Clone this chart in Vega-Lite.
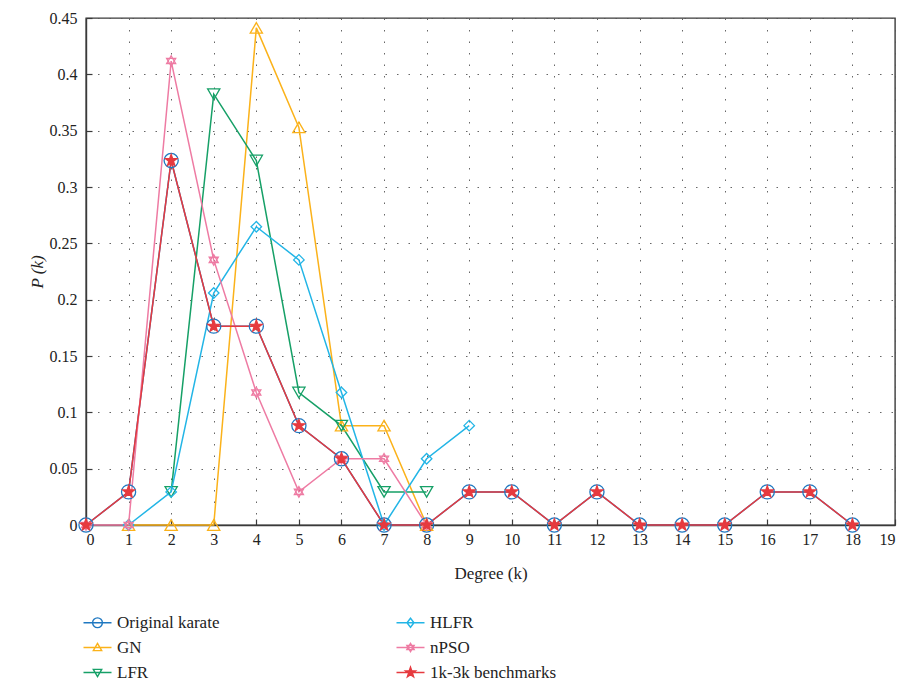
{
  "$schema": "https://vega.github.io/schema/vega-lite/v6.json",
  "width": 809,
  "height": 507,
  "autosize": "none",
  "padding": {"left": 86, "top": 18, "right": 11, "bottom": 159},
  "background": "white",
  "config": {
    "font": "Liberation Serif",
    "view": {"stroke": "#3a3a3a", "strokeWidth": 1.4},
    "axis": {
      "labelFont": "Liberation Serif",
      "titleFont": "Liberation Serif",
      "labelFontSize": 16,
      "titleFontSize": 17,
      "labelColor": "#222",
      "titleColor": "#222",
      "titleFontWeight": "normal",
      "domainColor": "#3a3a3a",
      "domainWidth": 1.4,
      "tickColor": "#3a3a3a",
      "tickWidth": 1.2,
      "tickSize": -6,
      "gridColor": "#555",
      "gridDash": [1.5, 10],
      "gridWidth": 1,
      "gridOpacity": 0.9
    }
  },
  "data": {
    "values": [
      {"k": 0, "p": 0, "series": "Original karate"},
      {"k": 1, "p": 0.0294, "series": "Original karate"},
      {"k": 2, "p": 0.3235, "series": "Original karate"},
      {"k": 3, "p": 0.1765, "series": "Original karate"},
      {"k": 4, "p": 0.1765, "series": "Original karate"},
      {"k": 5, "p": 0.0882, "series": "Original karate"},
      {"k": 6, "p": 0.0588, "series": "Original karate"},
      {"k": 7, "p": 0, "series": "Original karate"},
      {"k": 8, "p": 0, "series": "Original karate"},
      {"k": 9, "p": 0.0294, "series": "Original karate"},
      {"k": 10, "p": 0.0294, "series": "Original karate"},
      {"k": 11, "p": 0, "series": "Original karate"},
      {"k": 12, "p": 0.0294, "series": "Original karate"},
      {"k": 13, "p": 0, "series": "Original karate"},
      {"k": 14, "p": 0, "series": "Original karate"},
      {"k": 15, "p": 0, "series": "Original karate"},
      {"k": 16, "p": 0.0294, "series": "Original karate"},
      {"k": 17, "p": 0.0294, "series": "Original karate"},
      {"k": 18, "p": 0, "series": "Original karate"},
      {"k": 1, "p": 0, "series": "GN"},
      {"k": 2, "p": 0, "series": "GN"},
      {"k": 3, "p": 0, "series": "GN"},
      {"k": 4, "p": 0.4412, "series": "GN"},
      {"k": 5, "p": 0.3529, "series": "GN"},
      {"k": 6, "p": 0.0882, "series": "GN"},
      {"k": 7, "p": 0.0882, "series": "GN"},
      {"k": 8, "p": 0, "series": "GN"},
      {"k": 2, "p": 0.0294, "series": "LFR"},
      {"k": 3, "p": 0.3824, "series": "LFR"},
      {"k": 4, "p": 0.3235, "series": "LFR"},
      {"k": 5, "p": 0.1176, "series": "LFR"},
      {"k": 6, "p": 0.0882, "series": "LFR"},
      {"k": 7, "p": 0.0294, "series": "LFR"},
      {"k": 8, "p": 0.0294, "series": "LFR"},
      {"k": 1, "p": 0, "series": "HLFR"},
      {"k": 2, "p": 0.0294, "series": "HLFR"},
      {"k": 3, "p": 0.2059, "series": "HLFR"},
      {"k": 4, "p": 0.2647, "series": "HLFR"},
      {"k": 5, "p": 0.2353, "series": "HLFR"},
      {"k": 6, "p": 0.1176, "series": "HLFR"},
      {"k": 7, "p": 0, "series": "HLFR"},
      {"k": 8, "p": 0.0588, "series": "HLFR"},
      {"k": 9, "p": 0.0882, "series": "HLFR"},
      {"k": 0, "p": 0, "series": "nPSO"},
      {"k": 1, "p": 0, "series": "nPSO"},
      {"k": 2, "p": 0.4118, "series": "nPSO"},
      {"k": 3, "p": 0.2353, "series": "nPSO"},
      {"k": 4, "p": 0.1176, "series": "nPSO"},
      {"k": 5, "p": 0.0294, "series": "nPSO"},
      {"k": 6, "p": 0.0588, "series": "nPSO"},
      {"k": 7, "p": 0.0588, "series": "nPSO"},
      {"k": 8, "p": 0, "series": "nPSO"},
      {"k": 0, "p": 0, "series": "1k-3k benchmarks"},
      {"k": 1, "p": 0.0294, "series": "1k-3k benchmarks"},
      {"k": 2, "p": 0.3235, "series": "1k-3k benchmarks"},
      {"k": 3, "p": 0.1765, "series": "1k-3k benchmarks"},
      {"k": 4, "p": 0.1765, "series": "1k-3k benchmarks"},
      {"k": 5, "p": 0.0882, "series": "1k-3k benchmarks"},
      {"k": 6, "p": 0.0588, "series": "1k-3k benchmarks"},
      {"k": 7, "p": 0, "series": "1k-3k benchmarks"},
      {"k": 8, "p": 0, "series": "1k-3k benchmarks"},
      {"k": 9, "p": 0.0294, "series": "1k-3k benchmarks"},
      {"k": 10, "p": 0.0294, "series": "1k-3k benchmarks"},
      {"k": 11, "p": 0, "series": "1k-3k benchmarks"},
      {"k": 12, "p": 0.0294, "series": "1k-3k benchmarks"},
      {"k": 13, "p": 0, "series": "1k-3k benchmarks"},
      {"k": 14, "p": 0, "series": "1k-3k benchmarks"},
      {"k": 15, "p": 0, "series": "1k-3k benchmarks"},
      {"k": 16, "p": 0.0294, "series": "1k-3k benchmarks"},
      {"k": 17, "p": 0.0294, "series": "1k-3k benchmarks"},
      {"k": 18, "p": 0, "series": "1k-3k benchmarks"}
    ]
  },
  "layer": [
    {
      "mark": {"type": "line", "strokeWidth": 1.5},
      "encoding": {
        "x": {
          "field": "k", "type": "quantitative",
          "scale": {"domain": [0, 19], "nice": false, "zero": false},
          "axis": {"values": [0,1,2,3,4,5,6,7,8,9,10,11,12,13,14,15,16,17,18,19], "format": "d", "title": "Degree (k)", "labelPadding": 12, "titlePadding": 18, "grid": true}
        },
        "y": {
          "field": "p", "type": "quantitative",
          "scale": {"domain": [0, 0.45], "nice": false},
          "axis": {"values": [0,0.05,0.1,0.15,0.2,0.25,0.3,0.35,0.4,0.45], "format": "~g", "title": "P (k)", "titleFontStyle": "italic", "labelPadding": 15, "titlePadding": 3, "grid": true}
        },
        "color": {
          "field": "series", "type": "nominal",
          "scale": {
            "domain": ["Original karate", "GN", "LFR", "HLFR", "nPSO", "1k-3k benchmarks"],
            "range": ["#1f78c1", "#fbb21a", "#16a067", "#22b5e6", "#ee7ba3", "#e63a3f"]
          },
          "legend": {
            "orient": "none",
            "legendX": 3,
            "legendY": 596,
            "columns": 2,
            "title": null,
            "labelFont": "Liberation Serif",
            "labelFontSize": 17,
            "labelColor": "#222",
            "labelOffset": 11,
            "symbolSize": 196,
            "columnPadding": 173,
            "rowPadding": 7,
            "labelLimit": 300,
            "encode": {
              "symbols": {
                "update": {
                  "shape": {"signal": "datum.value === 'Original karate' ? 'M-2,0H2M0.7,0A0.7,0.7 0 1 1 -0.7,0A0.7,0.7 0 1 1 0.7,0' : datum.value === 'GN' ? 'M-2,0H2M0,-0.6L0.6,0.45L-0.6,0.45Z' : datum.value === 'LFR' ? 'M-2,0H2M0,0.6L0.6,-0.45L-0.6,-0.45Z' : datum.value === 'HLFR' ? 'M-2,0H2M0,-0.65L0.5,0L0,0.65L-0.5,0Z' : datum.value === 'nPSO' ? 'M-2,0H2M0,-0.6L0.52,0.3L-0.52,0.3ZM0,0.6L0.52,-0.3L-0.52,-0.3Z' : 'M-2,0H2M0,-0.75L0.176,-0.243L0.713,-0.232L0.285,0.093L0.441,0.607L0,0.3L-0.441,0.607L-0.285,0.093L-0.713,-0.232L-0.176,-0.243Z'"},
                  "fill": {"signal": "datum.value === '1k-3k benchmarks' ? '#e63a3f' : 'transparent'"},
                  "stroke": {"scale": "color", "field": "value"},
                  "strokeWidth": {"value": 1.4},
                  "opacity": {"value": 1}
                }
              }
            }
          }
        }
      }
    },
    {
      "mark": {"type": "point", "strokeWidth": 1.3, "opacity": 1},
      "encoding": {
        "x": {"field": "k", "type": "quantitative"},
        "y": {"field": "p", "type": "quantitative"},
        "color": {"field": "series", "type": "nominal"},
        "shape": {
          "condition": [
            {"test": "datum.series === 'GN'", "value": "triangle-up"},
            {"test": "datum.series === 'LFR'", "value": "triangle-down"},
            {"test": "datum.series === 'HLFR'", "value": "diamond"},
            {"test": "datum.series === 'nPSO'", "value": "M0,-1L0.866,0.5L-0.866,0.5ZM0,1L0.866,-0.5L-0.866,-0.5Z"},
            {"test": "datum.series === '1k-3k benchmarks'", "value": "M0,-1L0.235,-0.324L0.951,-0.309L0.38,0.124L0.588,0.809L0,0.4L-0.588,0.809L-0.38,0.124L-0.951,-0.309L-0.235,-0.324Z"}
          ],
          "value": "circle"
        },
        "size": {
          "condition": [
            {"test": "datum.series === 'GN' || datum.series === 'LFR'", "value": 150},
            {"test": "datum.series === 'HLFR' || datum.series === 'nPSO'", "value": 110},
            {"test": "datum.series === '1k-3k benchmarks'", "value": 150}
          ],
          "value": 200
        },
        "fill": {
          "condition": {"test": "datum.series === '1k-3k benchmarks'", "value": "#e63a3f"},
          "value": "transparent"
        }
      }
    }
  ]
}
